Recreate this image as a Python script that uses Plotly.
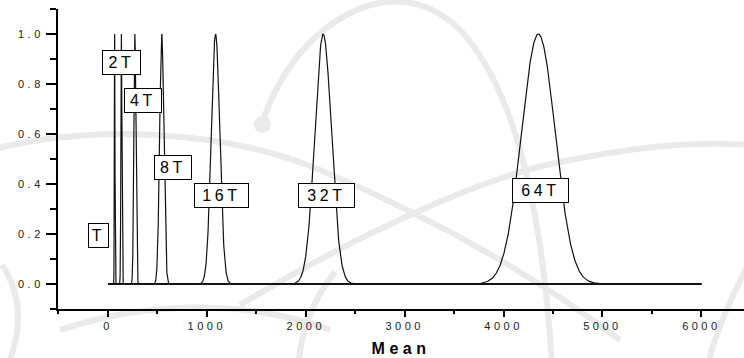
import re
import numpy as np
import plotly.graph_objects as go

# Peak position (mean) and spread of each distribution, multiples of the period T
labels = ["T", "2T", "4T", "8T", "16T", "32T", "64T"]
means = [68, 136, 272, 544, 1088, 2176, 4352]
sigmas = [3, 5, 10, 21, 43, 84, 170]

# Label box anchors (data coordinates) and box sizes in px
label_x = [-91, 142, 359, 662, 1153, 2214, 4378]
label_y = [0.193, 0.885, 0.735, 0.465, 0.355, 0.355, 0.373]
label_w = [20, 38, 37, 37, 54, 56, 56]

x_ticks = [0, 1000, 2000, 3000, 4000, 5000, 6000]
y_ticks = [0.0, 0.2, 0.4, 0.6, 0.8, 1.0]

W, H = 744, 358
ML, MR, MT, MB = 58, 0, 9, 49
PW, PH = W - ML - MR, H - MT - MB

fig = go.Figure()

for m, s in zip(means, sigmas):
    base = np.linspace(0, 6000, 1201)
    dense = np.linspace(m - 6 * s, m + 6 * s, 241)
    xs = np.unique(np.concatenate([base, dense[(dense >= 0) & (dense <= 6000)]]))
    ys = np.exp(-0.5 * ((xs - m) / s) ** 2)
    fig.add_trace(go.Scatter(x=xs, y=ys, mode="lines",
                             line=dict(color="#111111", width=1.2),
                             showlegend=False, hoverinfo="skip"))

for t, lx, ly, w in zip(labels, label_x, label_y, label_w):
    fig.add_annotation(x=lx, y=ly, xref="x", yref="y", text=t, showarrow=False,
                       font=dict(family="Liberation Sans, Arial", size=16, color="#000"),
                       bgcolor="white", bordercolor="black", borderwidth=1,
                       borderpad=1, width=w - 3, height=21, align="center")


# Faint background emblem, drawn in page pixels and mapped to paper space
def to_paper(path):
    toks = re.findall(r"[A-Za-z]|-?\d+(?:\.\d+)?", path)
    out, nums = [], []
    for tk in toks:
        if tk.isalpha():
            out.append(tk)
        else:
            nums.append(float(tk))
            if len(nums) == 2:
                px, py = nums
                out.append(f"{(px - ML) / PW:.4f},{(MT + PH - py) / PH:.4f}")
                nums = []
    return " ".join(out)


emblem = [
    "M 262 124 C 290 30 390 -40 460 30 C 512 85 542 200 552 365",
    "M -10 150 C 90 125 220 128 320 170 C 420 212 520 265 620 340",
    "M 240 305 C 340 245 470 180 560 162 C 640 146 700 140 760 146",
    "M 2 265 C 22 295 22 330 8 365",
    "M 335 272 C 312 300 302 330 298 365",
    "M 752 258 C 732 295 716 330 708 365",
    "M 60 330 C 150 300 250 300 330 330",
]
for p in emblem:
    fig.add_shape(type="path", path=to_paper(p), xref="paper", yref="paper",
                  line=dict(color="#eaeaea", width=6), layer="below")
fig.add_shape(type="circle", xref="paper", yref="paper",
              x0=(254 - ML) / PW, x1=(271 - ML) / PW,
              y0=(MT + PH - 133) / PH, y1=(MT + PH - 116) / PH,
              fillcolor="#eaeaea", line=dict(width=0), layer="below")

axis_font = dict(family="Liberation Sans, Arial", size=11, color="#222")
fig.update_layout(
    width=W, height=H,
    margin=dict(l=ML, r=MR, t=MT, b=MB, pad=0),
    plot_bgcolor="white", paper_bgcolor="white",
    xaxis=dict(range=[-505, 6431], tickvals=x_ticks, ticktext=[str(v) for v in x_ticks],
               ticks="outside", ticklen=6, tickwidth=2, tickcolor="black",
               showline=True, linecolor="black", linewidth=2,
               showgrid=False, zeroline=False, tickfont=axis_font,
               minor=dict(dtick=500, tick0=0, ticks="outside", ticklen=3,
                          tickwidth=2, tickcolor="black"),
               title=dict(text="<b>Mean</b>", standoff=12,
                          font=dict(family="Liberation Sans, Arial", size=16, color="#000"))),
    yaxis=dict(range=[-0.1, 1.1], tickvals=y_ticks, ticktext=[f"{v:.1f}" for v in y_ticks],
               ticks="outside", ticklen=10, tickwidth=2, tickcolor="black",
               showline=True, linecolor="black", linewidth=2,
               showgrid=False, zeroline=False, tickfont=axis_font,
               minor=dict(dtick=0.1, tick0=0, ticks="outside", ticklen=6,
                          tickwidth=2, tickcolor="black")),
)

# Wide letter spacing for the axis and label text
spread_js = """
var gd = document.getElementById('{plot_id}');
function spread() {
  gd.querySelectorAll('.xtick text, .ytick text').forEach(function (t) { t.style.letterSpacing = '3.5px'; });
  gd.querySelectorAll('.annotation-text').forEach(function (t) { t.style.letterSpacing = '3.5px'; });
  gd.querySelectorAll('.g-xtitle text').forEach(function (t) { t.style.letterSpacing = '4.5px'; });
}
spread();
if (gd.on) { gd.on('plotly_afterplot', spread); }
"""

fig.write_html("out.html", post_script=spread_js)
